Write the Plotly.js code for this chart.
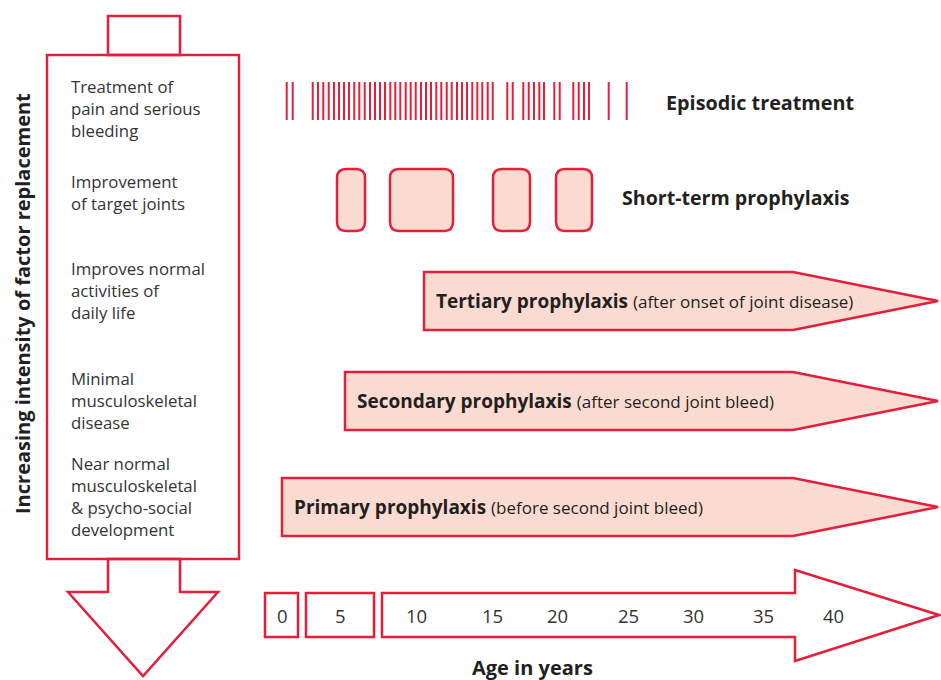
<!DOCTYPE html>
<html>
<head>
<meta charset="utf-8">
<script src="https://cdn.plot.ly/plotly-3.0.1.min.js"></script>
<style>html,body{margin:0;padding:0;background:#fff;}#chart{width:941px;height:680px;}</style>
</head>
<body>
<div id="chart"></div>
<script>
// ---- data ----
var episodicDoses = [286.7,292.7,
  312.7,318,323.3,328.7,334,339,344,349,354.3,359.3,364.7,370,375,380,385,390.3,395.3,400.3,405.7,410.7,415.7,421,426,431,436.3,441.3,446.7,451.7,457,462,467,472.3,477.3,482.3,487.7,492.7,
  507.3,512.7,523.3,528.7,534,539.3,544,554.3,559.7,573.3,578.7,584,589,608.7,626.7];
var shortTermStart = [337, 390, 493, 556];
var shortTermEnd   = [365, 453, 530, 592];
var prophylaxisNames  = ['Tertiary prophylaxis', 'Secondary prophylaxis', 'Primary prophylaxis'];
var prophylaxisNotes  = ['(after onset of joint disease)', '(after second joint bleed)', '(before second joint bleed)'];
var prophylaxisStart  = [424, 345, 282];
var ageLabels = ['0','5','10','15','20','25','30','35','40'];
var ageLabelPos = [282, 340, 416, 492, 557, 628, 693, 763, 833];
var benefits = [
  ['Treatment of','pain and serious','bleeding'],
  ['Improvement','of target joints'],
  ['Improves normal','activities of','daily life'],
  ['Minimal','musculoskeletal','disease'],
  ['Near normal','musculoskeletal','& psycho-social','development']
];
var benefitTop = [87, 182, 269, 379, 464];

// ---- styles ----
var RED = '#e41f3a', FILL = '#fadbd2', TXT = '#231f20', FONT = '"Open Sans", "Noto Sans", sans-serif';
var shapes = [], annotations = [], traces = [];

function poly(pts, fill){
  var d = 'M' + pts.map(function(p){return p[0]+','+p[1];}).join(' L') + ' Z';
  shapes.push({type:'path', xref:'x', yref:'y', path:d, line:{color:RED, width:2.5}, fillcolor:fill||'rgba(0,0,0,0)'});
}
function txt(x, y, t, size, anchor, extra){
  var a = {x:x, y:y, xref:'x', yref:'y', text:t, showarrow:false, xanchor:anchor||'left', yanchor:'middle',
    borderpad:0, font:{family:FONT, size:size, color:TXT}};
  if (extra) for (var k in extra) a[k] = extra[k];
  annotations.push(a);
}

// left column: box with arrow
poly([[108,55],[108,16],[180,16],[180,55]]);
poly([[47,55],[239,55],[239,559],[47,559]]);
poly([[108,559],[108,592],[68,592],[143,676],[218,592],[180,592],[180,559]]);
benefits.forEach(function(lines, i){
  var c = benefitTop[i] + (lines.length - 1) * 21.5 / 2;
  txt(70, c, lines.join('<br>'), 16.8, 'left', {align:'left', font:{family:FONT, size:16.8, color:'#333'}});
});
txt(22, 304, '<b>Increasing intensity of factor replacement</b>', 20, 'center', {textangle:-90});

// episodic treatment
var ex = [], ey = [];
episodicDoses.forEach(function(v){ ex.push(v, v, null); ey.push(82, 120, null); });
traces.push({x:ex, y:ey, type:'scatter', mode:'lines', line:{color:RED, width:2}, hoverinfo:'skip'});
txt(665, 102, '<b>Episodic treatment</b>', 19.8);

// short-term prophylaxis (rounded blocks)
shortTermStart.forEach(function(s, i){
  var e = shortTermEnd[i], t = 169, b = 231, r = 9;
  var d = 'M'+(s+r)+','+t+' L'+(e-r)+','+t+' Q'+e+','+t+' '+e+','+(t+r)+' L'+e+','+(b-r)+' Q'+e+','+b+' '+(e-r)+','+b+
          ' L'+(s+r)+','+b+' Q'+s+','+b+' '+s+','+(b-r)+' L'+s+','+(t+r)+' Q'+s+','+t+' '+(s+r)+','+t+' Z';
  shapes.push({type:'path', xref:'x', yref:'y', path:d, line:{color:RED, width:2.5}, fillcolor:FILL});
});
txt(621, 197, '<b>Short-term prophylaxis</b>', 19.6);

// prophylaxis arrows
var rowTop = [272, 372, 478];
prophylaxisNames.forEach(function(n, i){
  var s = prophylaxisStart[i], t = rowTop[i], b = t + 58, m = (t + b)/2;
  poly([[s,t],[793,t],[938,m],[793,b],[s,b]], FILL);
  txt(s + 11, m, '<b>' + n + '</b> <span style="font-size:17px">' + prophylaxisNotes[i] + '</span>', 19);
});

// age axis
poly([[265,593],[298,593],[298,637],[265,637]]);
poly([[306,593],[374,593],[374,637],[306,637]]);
poly([[382,593],[795,593],[795,570],[939,615],[795,661],[795,637],[382,637]]);
ageLabels.forEach(function(l, i){ txt(ageLabelPos[i], 615, l, 18.5, 'center', {font:{family:FONT, size:18.5, color:'#333'}}); });
txt(532, 667, '<b>Age in years</b>', 20, 'center');

Plotly.newPlot('chart', traces, {
  width:941, height:680, margin:{l:0, r:0, t:0, b:0},
  paper_bgcolor:'#fff', plot_bgcolor:'#fff', showlegend:false,
  xaxis:{range:[0,941], visible:false, fixedrange:true},
  yaxis:{range:[680,0], visible:false, fixedrange:true},
  shapes:shapes, annotations:annotations
}, {displayModeBar:false, staticPlot:true});
</script>
</body>
</html>
